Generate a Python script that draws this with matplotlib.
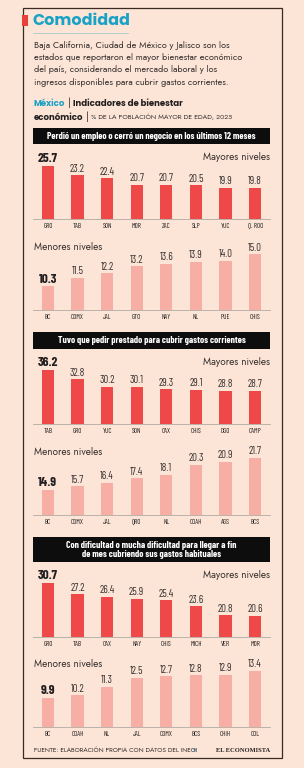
#!/usr/bin/env python3

'''three indicators of economic comfort, highest and lowest states'''

import matplotlib
matplotlib.use('Agg')
import matplotlib.pyplot as plt
from matplotlib.patches import Rectangle, Circle
from matplotlib import font_manager

W, H = 304, 768
BG = '#fce5d6'
RED = '#ee4848'
PINK = '#f7aea4'
TEAL = '#1aa2c6'
INK = '#231f20'
BODY = '#3a3332'


def pick_bold(cands):
    '''first family in cands that has a real bold face'''
    for name in cands:
        for f in font_manager.fontManager.ttflist:
            try:
                w = int(f.weight)
            except (TypeError, ValueError):
                w = 700 if 'bold' in str(f.weight) else 400
            if f.name == name and f.style == 'normal' and w >= 700:
                return name
    return 'DejaVu Sans'


COND = ['Barlow Condensed', 'DejaVu Sans']
SANS = ['Jost', 'DejaVu Sans']
BOLD = [pick_bold(['Jost', 'League Spartan', 'Kumbh Sans', 'Poppins', 'Montserrat', 'Nunito Sans']),
        'DejaVu Sans']

# data
cat_perdio_top = ['GRO', 'TAB', 'SON', 'MOR', 'ZAC', 'SLP', 'YUC', 'Q. ROO']
val_perdio_top = [25.7, 23.2, 22.4, 20.7, 20.7, 20.5, 19.9, 19.8]
cat_perdio_low = ['BC', 'CDMX', 'JAL', 'GTO', 'NAY', 'NL', 'PUE', 'CHIS']
val_perdio_low = [10.3, 11.5, 12.2, 13.2, 13.6, 13.9, 14.0, 15.0]
cat_prestado_top = ['TAB', 'GRO', 'YUC', 'SON', 'OAX', 'CHIS', 'DGO', 'CAMP']
val_prestado_top = [36.2, 32.8, 30.2, 30.1, 29.3, 29.1, 28.8, 28.7]
cat_prestado_low = ['BC', 'CDMX', 'JAL', 'QRO', 'NL', 'COAH', 'AGS', 'BCS']
val_prestado_low = [14.9, 15.7, 16.4, 17.4, 18.1, 20.3, 20.9, 21.7]
cat_dificultad_top = ['GRO', 'TAB', 'OAX', 'NAY', 'CHIS', 'MICH', 'VER', 'MOR']
val_dificultad_top = [30.7, 27.2, 26.4, 25.9, 25.4, 23.6, 20.8, 20.6]
cat_dificultad_low = ['BC', 'COAH', 'NL', 'JAL', 'CDMX', 'BCS', 'CHIH', 'COL']
val_dificultad_low = [9.9, 10.2, 11.3, 12.5, 12.7, 12.8, 12.9, 13.4]

headers = ['Perdió un empleo o cerró un negocio en los últimos 12 meses',
           'Tuvo que pedir prestado para cubrir gastos corrientes',
           'Con dificultad o mucha dificultad para llegar a fin\nde mes cubriendo sus gastos habituales']

# layout: (baseline px, px per unit, axis floor)
panels = [
    (cat_perdio_top, val_perdio_top, RED, 'Mayores niveles', 219, 3.73, 11.5),
    (cat_perdio_low, val_perdio_low, PINK, 'Menores niveles', 310, 6.8, 6.8),
    (cat_prestado_top, val_prestado_top, RED, 'Mayores niveles', 424, 2.8, 16.9),
    (cat_prestado_low, val_prestado_low, PINK, 'Menores niveles', 515, 4.7, 9.6),
    (cat_dificultad_top, val_dificultad_top, RED, 'Mayores niveles', 637, 3.27, 14.2),
    (cat_dificultad_low, val_dificultad_low, PINK, 'Menores niveles', 727, 7.7, 6.1),
]
header_boxes = [(128, 144), (332, 349), (537, 562)]

X0, X1 = 33, 270

fig = plt.figure(figsize=(W / 100, H / 100), dpi=100)
fig.patch.set_facecolor(BG)


def fx(x):
    return x / W


def fy(y):
    return 1 - y / H


def ftext(x, y, s, **kw):
    return fig.text(fx(x), fy(y), s, **kw)


# frame and title
fig.add_artist(Rectangle((fx(22.5), fy(758)), fx(282) - fx(22.5), fy(8) - fy(758),
                         transform=fig.transFigure, fill=False, ec='#3b2a22', lw=0.9))
fig.add_artist(Rectangle((fx(22), fy(26)), fx(5.5), 11 / H, transform=fig.transFigure,
                         fc='#e8413c', ec='none'))
ftext(32.5, 21, 'Comodidad', color=TEAL, fontsize=11.5, fontweight='bold',
      family=BOLD, va='center')
fig.add_artist(plt.Line2D([fx(33), fx(128)], [fy(33), fy(33)], color='#a9c9cc', lw=0.6))

para = ['Baja California, Ciudad de México y Jalisco son los',
        'estados que reportaron el mayor bienestar económico',
        'del país, considerando el mercado laboral y los',
        'ingresos disponibles para cubrir gastos corrientes.']
for i, line in enumerate(para):
    ftext(34, 45 + i * 12.5, line, color=BODY, fontsize=6.55, family=SANS, va='center')

renderer = fig.canvas.get_renderer()


def chain(x, y, parts):
    for s, kw in parts:
        t = ftext(x, y, s, va='center', **kw)
        x += t.get_window_extent(renderer).width + 2.5


chain(34, 103, [('México', dict(color=TEAL, fontsize=6.2, fontweight='bold', family=BOLD)),
                ('|', dict(color=BODY, fontsize=7, family=SANS)),
                ('Indicadores de bienestar', dict(color=INK, fontsize=6.2, fontweight='bold', family=BOLD))])
chain(34, 117, [('económico', dict(color=INK, fontsize=6.2, fontweight='bold', family=BOLD)),
                ('|', dict(color=BODY, fontsize=7, family=SANS)),
                ('% DE LA POBLACIÓN MAYOR DE EDAD, 2025', dict(color=BODY, fontsize=5.0,
                                                              family=SANS))])

# section headers
for (top, bot), txt in zip(header_boxes, headers):
    fig.add_artist(Rectangle((fx(X0), fy(bot)), fx(X1) - fx(X0), fy(top) - fy(bot),
                             transform=fig.transFigure, fc='#0d0d0d', ec='none'))
    ftext((X0 + X1) / 2, (top + bot) / 2 + 0.3, txt, color='white', fontsize=6.9,
          fontweight='bold', family=COND, ha='center', va='center', linespacing=0.95)

# bar panels
AX_H = 62
for cats, vals, color, tag, base, scale, floor in panels:
    ax = fig.add_axes([fx(X0), 1 - base / H, fx(X1) - fx(X0), AX_H / H])
    ax.set_facecolor('none')
    xs = range(len(cats))
    ax.bar(xs, vals, width=0.41, color=color, zorder=2)
    ax.set_xlim(-0.5, len(cats) - 0.5)
    ax.set_ylim(floor, floor + AX_H / scale)
    for s in ['top', 'right', 'left']:
        ax.spines[s].set_visible(False)
    ax.spines['bottom'].set_color('#b3aaa3')
    ax.spines['bottom'].set_linewidth(0.6)
    ax.set_yticks([])
    ax.set_xticks(list(xs))
    ax.set_xticklabels(cats, fontsize=5.0, family=COND, color=INK)
    ax.tick_params(axis='x', length=0, pad=3.0)
    for i, v in enumerate(vals):
        if i == 0:
            ax.annotate('{:.1f}'.format(v), (i, v), xytext=(0, 1.2), textcoords='offset points',
                        ha='center', va='bottom', fontsize=9.6, fontweight='bold',
                        family=COND, color=INK)
        else:
            ax.annotate('{:.1f}'.format(v), (i, v), xytext=(0, 1.2), textcoords='offset points',
                        ha='center', va='bottom', fontsize=7.8, family=COND, color=BODY)
    if tag.startswith('Mayores'):
        ftext(X1, base - 62, tag, ha='right', va='center', fontsize=7.2, color=BODY,
              family=SANS)
    else:
        ftext(X0 + 1, base - 63, tag, ha='left', va='center', fontsize=7.2, color=BODY,
              family=SANS)

# footer
ftext(34, 750, 'FUENTE: ELABORACIÓN PROPIA CON DATOS DEL INEGI', fontsize=4.7,
      color=BODY, family=SANS, va='center')
fig.add_artist(Circle((fx(195), fy(750)), 2.2 / H, transform=fig.transFigure,
                      fc='#6fb3e0', ec='none'))
ftext(X1, 750, 'EL ECONOMISTA', fontsize=4.7, fontweight='bold', color=INK,
      family=['Liberation Serif', 'DejaVu Serif'], ha='right', va='center')

fig.savefig('out.png', dpi=100, facecolor=BG)
